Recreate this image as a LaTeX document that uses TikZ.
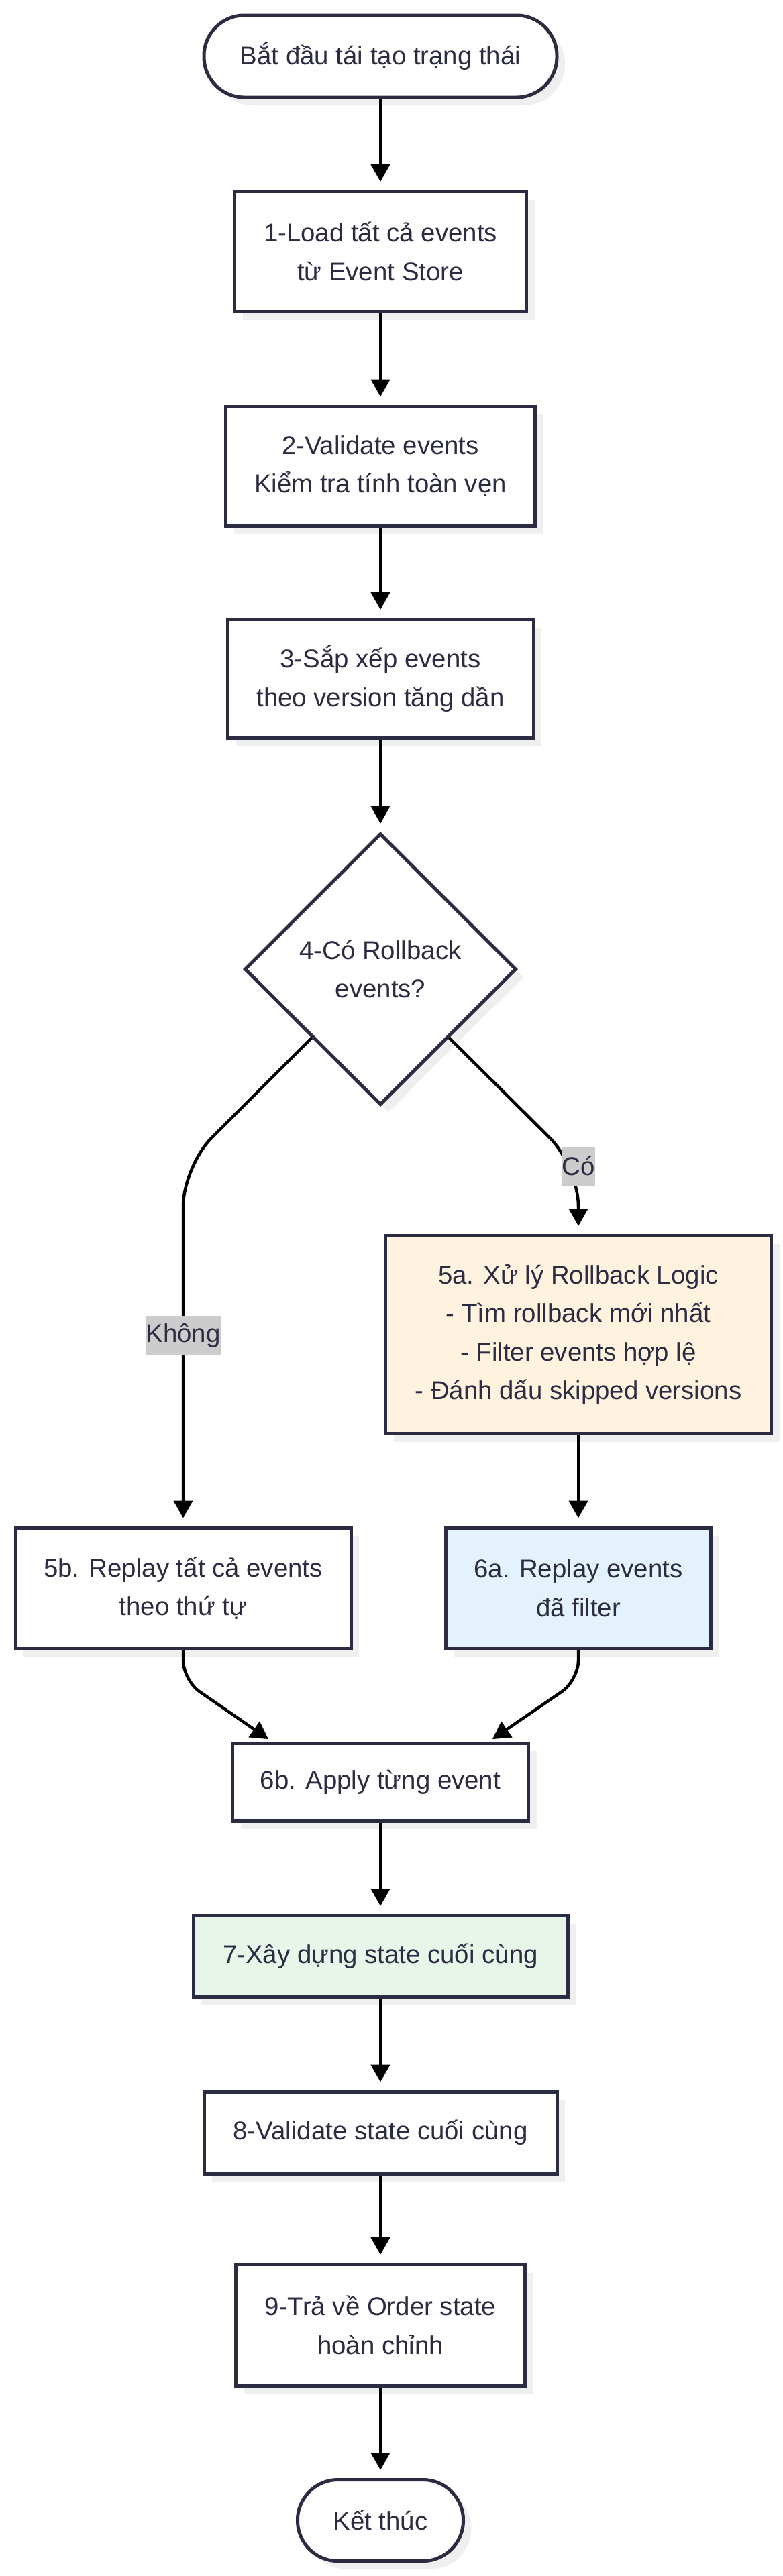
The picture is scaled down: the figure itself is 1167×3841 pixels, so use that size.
\documentclass[tikz,border=0pt]{standalone}
\usepackage{fontspec}
\setmainfont{Liberation Sans}
\usetikzlibrary{shapes.geometric,arrows.meta,shadows,calc}
\definecolor{edgenavy}{HTML}{2B2B42}
\definecolor{shadowgray}{HTML}{EFEFEF}
\definecolor{labelgray}{HTML}{CCCCCC}
\definecolor{rollfill}{HTML}{FFF3E0}
\definecolor{replayfill}{HTML}{E3F2FD}
\definecolor{statefill}{HTML}{E8F5E9}
\tikzset{
    box/.style={draw=edgenavy, line width=5pt, fill=white, text=edgenavy, align=center,
        inner sep=0pt, font=\fontsize{38.4}{57.6}\selectfont,
        drop shadow={shadow xshift=12pt, shadow yshift=-12pt, fill=shadowgray, opacity=1}},
    term/.style={box, rounded corners=60pt},
    decision/.style={box, diamond, aspect=1, minimum size=405pt},
    flow/.style={-{Triangle[width=28pt,length=26pt]}, line width=4.5pt, black, shorten >=12pt},
    edgelabel/.style={sharp corners, fill=labelgray, text=edgenavy, inner sep=0pt,
        minimum height=57.6pt, font=\fontsize{38.4}{57.6}\selectfont}
}
\begin{document}
\begin{tikzpicture}[x=1pt, y=-1pt]
    \useasboundingbox (0, 0) rectangle (1167, 3841);
    \node[term, minimum width=526pt, minimum height=122pt] (start) at (567, 84) {Bắt đầu tái tạo trạng thái};
    \node[box, minimum width=435pt, minimum height=179pt] (load) at (567, 375) {1-Load tất cả events\\từ Event Store};
    \node[box, minimum width=461pt, minimum height=178pt] (check) at (567, 695) {2-Validate events\\Kiểm tra tính toàn vẹn};
    \node[box, minimum width=456pt, minimum height=177pt] (sort) at (567, 1012) {3-Sắp xếp events\\theo version tăng dần};
    \node[decision] (hasroll) at (567, 1445) {4-Có Rollback\\events?};
    \node[box, fill=rollfill, minimum width=575pt, minimum height=295pt] (rollback) at (862, 1990) {5a. Xử lý Rollback Logic\\- Tìm rollback mới nhất\\- Filter events hợp lệ\\- Đánh dấu skipped versions};
    \node[box, minimum width=500pt, minimum height=180pt] (replayall) at (273, 2368) {5b. Replay tất cả events\\theo thứ tự};
    \node[box, fill=replayfill, minimum width=395pt, minimum height=180pt] (replayfilt) at (862, 2368) {6a. Replay events\\đã filter};
    \node[box, minimum width=441pt, minimum height=116pt] (apply) at (567, 2657) {6b. Apply từng event};
    \node[box, fill=statefill, minimum width=558pt, minimum height=121pt] (build) at (567, 2917) {7-Xây dựng state cuối cùng};
    \node[box, minimum width=526pt, minimum height=122pt] (verify) at (567, 3180) {8-Validate state cuối cùng};
    \node[box, minimum width=431pt, minimum height=181pt] (result) at (567, 3467) {9-Trả về Order state\\hoàn chỉnh};
    \node[term, minimum width=247pt, minimum height=121pt] (finish) at (567, 3758) {Kết thúc};

    \foreach \a/\b in {start/load, load/check, check/sort, sort/hasroll, rollback/replayfilt,
        apply/build, build/verify, verify/result, result/finish}
        \draw[flow] (\a) -- (\b);

    \coordinate (nobend) at (273, 1739);
    \coordinate (yesbend) at (862, 1739);
    \draw[flow, rounded corners=60pt] ($(hasroll.west)!0.5!(hasroll.south)$) -- (nobend)
        -- node[edgelabel, pos=0.47] {Không} (replayall.north);
    \draw[flow, rounded corners=60pt] ($(hasroll.east)!0.5!(hasroll.south)$) -- (yesbend)
        node[edgelabel] {Có} -- (rollback.north);

    \draw[flow, rounded corners=30pt, shorten >=6pt] (replayall.south) -- ++(0, 45)
        -- ($(apply.north)+(-162, 0)$);
    \draw[flow, rounded corners=30pt, shorten >=6pt] (replayfilt.south) -- ++(0, 45)
        -- ($(apply.north)+(162, 0)$);
\end{tikzpicture}
\end{document}
